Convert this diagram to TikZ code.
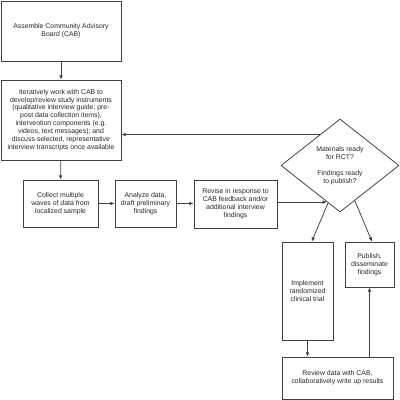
\documentclass[tikz,border=0pt]{standalone}
\usepackage{fontspec}
\setmainfont{Liberation Sans}
\usetikzlibrary{shapes.geometric,arrows.meta,calc}

\begin{document}
\begin{tikzpicture}[x=0.025cm, y=-0.025cm,
    box/.style={draw=black!75, line width=0.55pt, text=black!85, align=center,
        inner sep=0pt, font=\fontsize{4.9}{5.6}\selectfont},
    arr/.style={draw=black!75, line width=0.55pt, -{Latex[length=3pt,width=2.6pt]}}]
    \useasboundingbox (0, 0) rectangle (400, 400);
    % left column
    \node[box, minimum width=3cm, minimum height=1.5cm] (cab) at(61, 31)
        {Assemble Community Advisory\\Board (CAB)};
    \node[box, minimum width=3cm, minimum height=2cm] (iter) at(61, 120)
        {Iteratively work with CAB to\\develop/review study instruments\\(qualitative interview guide; pre-\\post data collection items),\\intervention components (e.g.\\videos, text messages); and\\discuss selected, representative\\interview transcripts once available};
    % middle row
    \node[box, minimum width=1.875cm, minimum height=1.175cm] (collect) at(60.5, 203.5)
        {Collect multiple\\waves of data from\\localized sample};
    \node[box, minimum width=1.525cm, minimum height=1.175cm] (analyze) at(145.5, 203.5)
        {Analyze data,\\draft preliminary\\findings};
    \node[box, minimum width=2.075cm, minimum height=1.2cm] (revise) at(235.5, 204)
        {Revise in response to\\CAB feedback and/or\\additional interview\\findings};
    \node[box, diamond, minimum width=2.95cm, minimum height=2.325cm] (decide) at(340, 165.5)
        {Materials ready\\for RCT?\\[5.6pt]Findings ready\\to publish?};
    % right column
    \node[box, minimum width=1.275cm, minimum height=2.45cm] (trial) at(307.5, 291)
        {Implement\\randomized\\clinical trial};
    \node[box, minimum width=1.225cm, minimum height=1.125cm] (publish) at(369.5, 264.5)
        {Publish,\\disseminate\\findings};
    \node[box, minimum width=2.775cm, minimum height=1.05cm] (review) at(337.5, 378)
        {Review data with CAB,\\collaboratively write up results};
    % points on the diamond edges
    \coordinate (loopout) at ($(decide.west)!0.66!(decide.north)$);
    \coordinate (revin) at ($(decide.west)!0.78!(decide.south)$);
    \coordinate (trialout) at ($(decide.west)!0.8!(decide.south)$);
    \coordinate (pubout) at ($(decide.south)!0.25!(decide.east)$);
    \coordinate (trialin) at ($(trial.north west)!0.58!(trial.north east)$);
    \coordinate (pubin) at ($(publish.north west)!0.55!(publish.north east)$);
    % arrows
    \draw[arr] (cab) -- (iter);
    \draw[arr] (iter) -- (collect);
    \draw[arr] (collect) -- (analyze);
    \draw[arr] (analyze) -- (analyze -| revise.west);
    \draw[arr] (revise.east |- revin) -- (revin);
    \draw[arr] (loopout) -- (loopout -| iter.east);
    \draw[arr] (trialout) -- (trialin);
    \draw[arr] (pubout) -- (pubin);
    \draw[arr] (trial.south) -- (trial.south |- review.north);
    \draw[arr] (review.north -| publish.south) -- (publish.south);
\end{tikzpicture}
\end{document}
